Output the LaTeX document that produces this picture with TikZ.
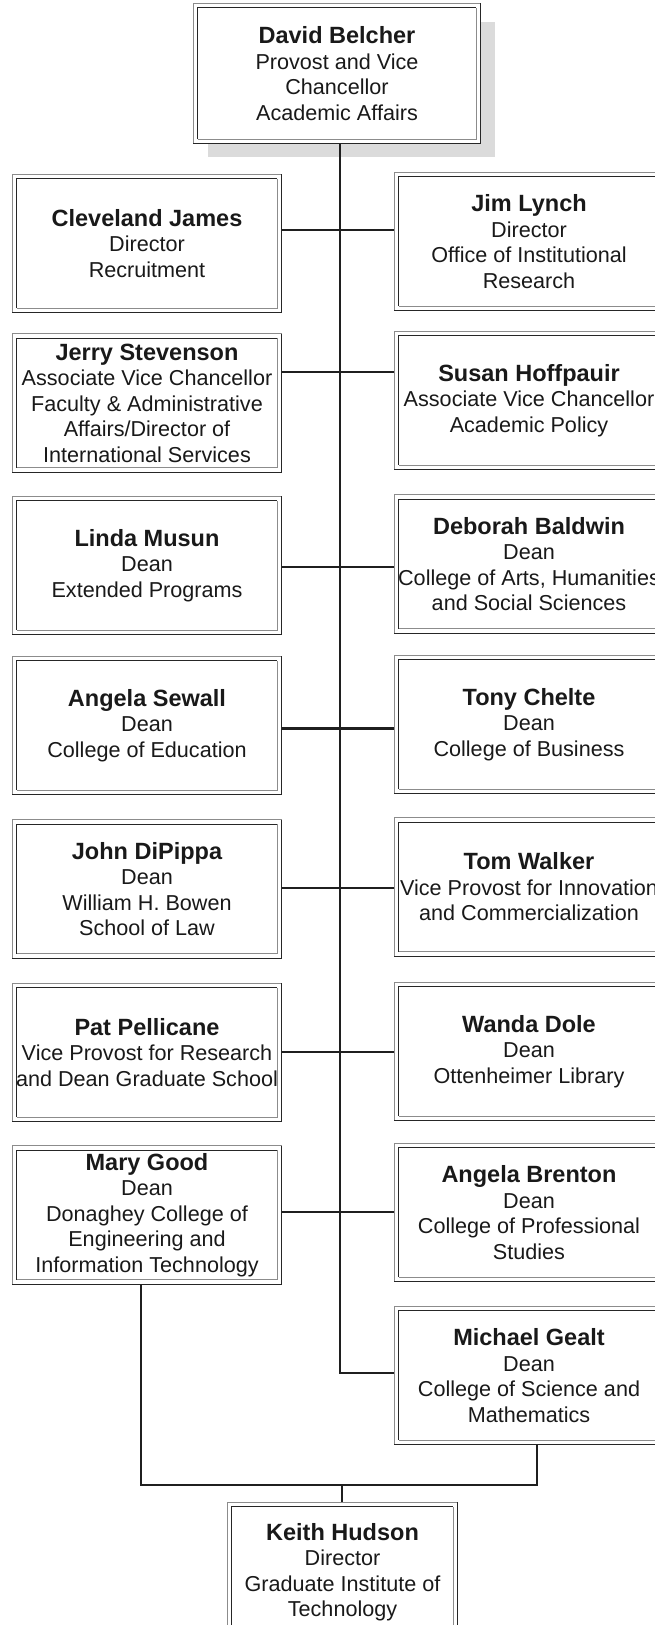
\documentclass[tikz,border=0pt]{standalone}
\usepackage{fontspec}
\setmainfont{Liberation Sans}
\newcommand\nm[1]{{\fontsize{23.5}{25.5}\selectfont\bfseries #1}}
\newcommand\groove[1]{%
  \draw[lightline] ([xshift=.5pt,yshift=.5pt]#1.south west) |- ([xshift=-.5pt,yshift=-.5pt]#1.north east);
  \draw[darkline] ([xshift=.5pt,yshift=.5pt]#1.south west) -| ([xshift=-.5pt,yshift=-.5pt]#1.north east);
  \draw[darkline] ([xshift=5pt,yshift=5pt]#1.south west) |- ([xshift=-5pt,yshift=-5pt]#1.north east);
  \draw[lightline] ([xshift=5pt,yshift=5pt]#1.south west) -| ([xshift=-5pt,yshift=-5pt]#1.north east);
}
\tikzset{
  box/.style={fill=white, inner sep=0pt, minimum width=270pt, minimum height=139pt,
    align=center, font=\fontsize{21.6}{25.5}\selectfont, text=black!90},
  lightline/.style={line width=1pt, draw=black!45},
  darkline/.style={line width=1pt, draw=black!85},
  conn/.style={line width=2.8pt, draw=black!88},
  shade/.style={fill=black!14}
}
\begin{document}
\begin{tikzpicture}[x=1pt,y=-1pt]
\useasboundingbox (0,0) rectangle (655,1625);
\clip (0,0) rectangle (655,1625);
% shadow of top box
\fill[shade] (208,22) rectangle (495,157);
\node[box, minimum width=288pt, minimum height=141pt] (top) at (337,73.5)
  {\nm{David Belcher}\\Provost and Vice\\Chancellor\\Academic Affairs};
% left column
\node[box] (L1) at (147,243.5) {\nm{Cleveland James}\\Director\\Recruitment};
\node[box] (L2) at (147,403) {\nm{Jerry Stevenson}\\Associate Vice Chancellor\\Faculty \& Administrative\\Affairs/Director of\\International Services};
\node[box] (L3) at (147,565.5) {\nm{Linda Musun}\\Dean\\Extended Programs};
\node[box] (L4) at (147,725.5) {\nm{Angela Sewall}\\Dean\\College of Education};
\node[box] (L5) at (147,889) {\nm{John DiPippa}\\Dean\\William H. Bowen\\School of Law};
\node[box] (L6) at (147,1052.5) {\nm{Pat Pellicane}\\Vice Provost for Research\\and Dean Graduate School};
\node[box] (L7) at (147,1215) {\nm{Mary Good}\\Dean\\Donaghey College of\\Engineering and\\Information Technology};
% right column
\node[box] (R1) at (529,241.5) {\nm{Jim Lynch}\\Director\\Office of Institutional\\Research};
\node[box] (R2) at (529,400.5) {\nm{Susan Hoffpauir}\\Associate Vice Chancellor\\Academic Policy};
\node[box] (R3) at (529,564) {\nm{Deborah Baldwin}\\Dean\\College of Arts, Humanities\\and Social Sciences};
\node[box] (R4) at (529,724.5) {\nm{Tony Chelte}\\Dean\\College of Business};
\node[box] (R5) at (529,887) {\nm{Tom Walker}\\Vice Provost for Innovation\\and Commercialization};
\node[box] (R6) at (529,1051.5) {\nm{Wanda Dole}\\Dean\\Ottenheimer Library};
\node[box] (R7) at (529,1212.5) {\nm{Angela Brenton}\\Dean\\College of Professional\\Studies};
\node[box] (R8) at (529,1375.5) {\nm{Michael Gealt}\\Dean\\College of Science and\\Mathematics};
% bottom
\node[box, minimum width=231pt, minimum height=140pt] (K) at (342.5,1572)
  {\nm{Keith Hudson}\\Director\\Graduate Institute of\\Technology};
% grooved double borders
\foreach \n in {top,L1,L2,L3,L4,L5,L6,L7,R1,R2,R3,R4,R5,R6,R7,R8,K}{\groove{\n}}
% junction coordinates on the spine
\coordinate (j1) at (340,230);
\coordinate (j2) at (340,372);
\coordinate (j3) at (340,567);
\coordinate (j4) at (340,728.5);
\coordinate (j5) at (340,888);
\coordinate (j6) at (340,1052);
\coordinate (j7) at (340,1212);
\coordinate (j8) at (340,1373);
\coordinate (bl) at (141,1485);
\coordinate (br) at (537,1485);
\coordinate (bm) at (342,1485);
% spine
\draw[conn] (top.south -| j8) -- (j8) -- (R8.west |- j8);
% row connectors
\foreach \i in {1,...,7}{
  \draw[conn] (L\i.east |- j\i) -- (R\i.west |- j\i);
}
% bottom bracket
\draw[conn] (L7.south -| bl) -- (bl) -- (br) -- (R8.south -| br);
\draw[conn] (bm) -- (K.north -| bm);
\end{tikzpicture}
\end{document}
